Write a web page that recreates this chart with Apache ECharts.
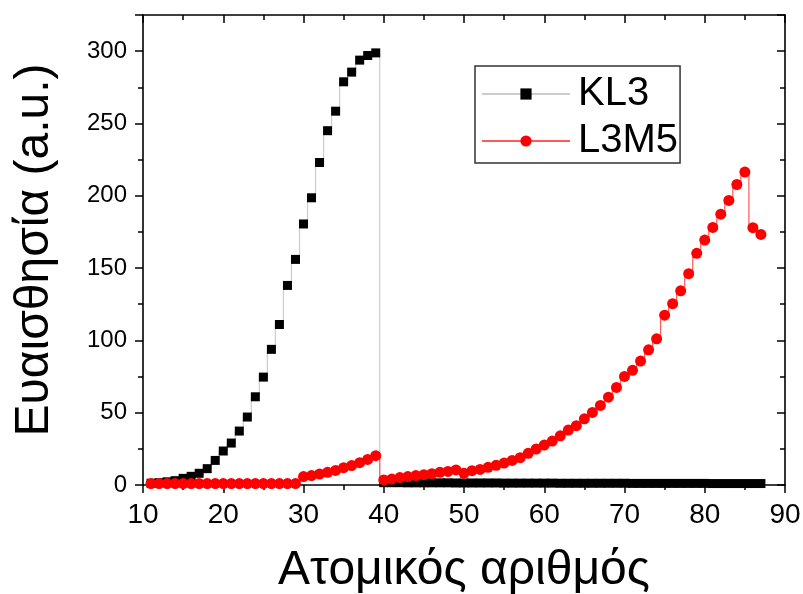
<!DOCTYPE html>
<html>
<head>
<meta charset="utf-8">
<script src="https://cdn.jsdelivr.net/npm/echarts@6/dist/echarts.min.js"></script>
<style>
html,body{margin:0;padding:0;background:#fff;}
#chart{width:803px;height:594px;}
</style>
</head>
<body>
<div id="chart"></div>
<script>
// Atomic numbers (x values)
var atomicNumbers = [11,12,13,14,15,16,17,18,19,20,21,22,23,24,25,26,27,28,29,30,
  31,32,33,34,35,36,37,38,39,40,41,42,43,44,45,46,47,48,49,50,
  51,52,53,54,55,56,57,58,59,60,61,62,63,64,65,66,67,68,69,70,
  71,72,73,74,75,76,77,78,79,80,81,82,83,84,85,86,87];

// KL3 sensitivity (a.u.)
var kl3Values = [1.2,1.6,2.2,3.0,4.6,6.0,8.1,11.3,17,23.5,29,37.3,47,61,74.6,93.8,111,138,156,180.5,
  198.6,223,245,258.5,278.8,285.5,293.8,297,298.8,1.6,1.6,1.6,1.5,1.5,1.5,1.5,1.5,1.5,1.4,1.4,
  1.4,1.4,1.4,1.4,1.3,1.3,1.3,1.3,1.3,1.3,1.3,1.2,1.2,1.2,1.2,1.2,1.2,1.2,1.2,1.2,
  1.1,1.1,1.1,1.1,1.1,1.1,1.1,1.1,1.1,1.1,1.0,1.0,1.0,1.0,1.0,1.0,1.0];

// L3M5 sensitivity (a.u.)
var l3m5Values = [1.0,1.0,1.0,1.0,1.0,1.0,1.0,1.0,1.0,1.0,1.0,1.0,1.0,1.0,1.0,1.0,1.0,1.0,1.0,5.8,
  6.5,7.6,8.8,10.1,12,13.4,15.4,17.7,20.3,3.5,4.1,5.1,5.8,6.5,7.1,7.8,8.8,9.4,10.4,8.1,
  9.9,10.8,12.2,13.6,15.2,17,18.9,21.9,24.9,27.6,30.4,34,38,41,45.8,50.2,55,60.7,67.5,75.1,
  79.3,85.7,93.5,101.1,117.4,125.4,134.3,146.1,160.2,169.4,178.1,187.3,196.8,207.8,216.4,177.9,173.3];

var xTickLabels = ['10','20','30','40','50','60','70','80','90'];
var yTickLabels = ['0','50','100','150','200','250','300'];

function pairs(xs, ys){ var out=[]; for(var i=0;i<xs.length;i++){ out.push([xs[i], ys[i]]); } return out; }

var FONT = 'Liberation Sans, Arial, sans-serif';
var chart = echarts.init(document.getElementById('chart'), null, {renderer:'canvas'});

var axisLineStyle = {color:'#000', width:1.6};

chart.setOption({
  animation:false,
  backgroundColor:'#fff',
  grid:{left:143, right:18, top:15, bottom:109, containLabel:false, outerBoundsMode:'none'},
  legend:{
    orient:'vertical',
    left:475, top:66,
    padding:[8,2,2,6],
    itemGap:7,
    itemWidth:88, itemHeight:14,
    borderColor:'#333', borderWidth:1.5,
    textStyle:{fontFamily:FONT, fontSize:40, color:'#000', padding:[0,0,0,3]},
    data:['KL3','L3M5']
  },
  xAxis:[{
    type:'value', min:10, max:90, interval:10,
    name:'Ατομικός αριθμός', nameLocation:'middle', nameGap:62,
    nameTextStyle:{fontFamily:FONT, fontSize:48, color:'#000'},
    axisLine:{onZero:false, lineStyle:axisLineStyle},
    axisTick:{inside:false, length:8, lineStyle:{color:'#000', width:1.5}},
    minorTick:{show:true, splitNumber:2, length:5, lineStyle:{color:'#000', width:1.5}},
    axisLabel:{fontFamily:FONT, fontSize:28, color:'#000', margin:16,
      formatter:function(v){ var s=String(v); return xTickLabels.indexOf(s)>=0?s:''; }},
    splitLine:{show:false}
  },{
    type:'value', min:10, max:90, interval:10, position:'top',
    axisLine:{onZero:false, lineStyle:axisLineStyle},
    axisTick:{inside:true, length:8, lineStyle:{color:'#000', width:1.5}},
    minorTick:{show:true, splitNumber:2, length:5, lineStyle:{color:'#000', width:1.5}},
    axisLabel:{show:false}, splitLine:{show:false}
  }],
  yAxis:[{
    type:'value', min:0, max:325, interval:50,
    name:'Ευαισθησία (a.u.)', nameLocation:'middle', nameGap:84,
    nameTextStyle:{fontFamily:FONT, fontSize:48, color:'#000'},
    axisLine:{onZero:false, lineStyle:axisLineStyle},
    axisTick:{inside:false, length:8, lineStyle:{color:'#000', width:1.5}},
    minorTick:{show:true, splitNumber:2, length:5, lineStyle:{color:'#000', width:1.5}},
    axisLabel:{fontFamily:FONT, fontSize:24, color:'#000', margin:16, showMaxLabel:false,
      formatter:function(v){ var s=String(v); return yTickLabels.indexOf(s)>=0?s:''; }},
    splitLine:{show:false}
  },{
    type:'value', min:0, max:325, interval:50, position:'right',
    axisLine:{onZero:false, lineStyle:axisLineStyle},
    axisTick:{inside:true, length:8, lineStyle:{color:'#000', width:1.5}},
    minorTick:{show:true, splitNumber:2, length:5, lineStyle:{color:'#000', width:1.5}},
    axisLabel:{show:false}, splitLine:{show:false}
  }],
  series:[{
    name:'KL3', type:'line', step:'middle',
    xAxisIndex:0, yAxisIndex:0,
    data:pairs(atomicNumbers, kl3Values),
    symbol:'rect', symbolSize:9, showAllSymbol:true,
    itemStyle:{color:'#000'},
    lineStyle:{color:'#cccccc', width:1.2},
    clip:true, z:2
  },{
    name:'L3M5', type:'line', step:'middle',
    xAxisIndex:0, yAxisIndex:0,
    data:pairs(atomicNumbers, l3m5Values),
    symbol:'circle', symbolSize:11, showAllSymbol:true,
    itemStyle:{color:'#ff0000'},
    lineStyle:{color:'#ff5a5a', width:1.2},
    clip:true, z:3
  }]
});
</script>
</body>
</html>
